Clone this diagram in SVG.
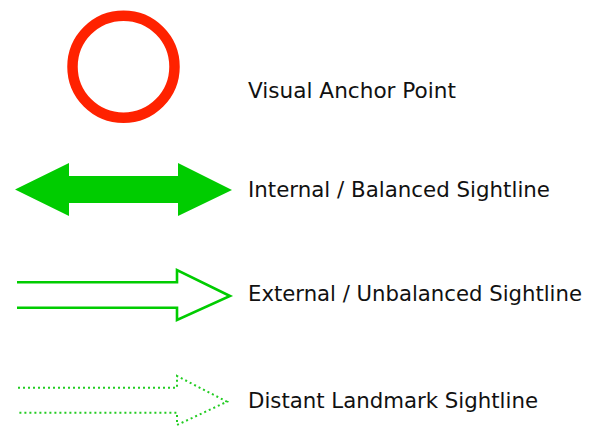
<svg xmlns="http://www.w3.org/2000/svg" width="591" height="427" viewBox="0 0 591 427">
<style>
.lbl{font-family:"DejaVu Sans","Liberation Sans",Arial,sans-serif;font-size:21px;fill:#111}
.out{fill:none;stroke:#00cc00;stroke-width:2.6;stroke-linejoin:miter}
.dot{fill:none;stroke:#22cc22;stroke-width:2;stroke-dasharray:2 3}
</style>
<rect width="591" height="427" fill="#fff"/>
<g id="anchor">
<circle cx="123.5" cy="66.7" r="51" fill="none" stroke="#ff2200" stroke-width="10.5"/>
<text class="lbl" x="248" y="97.5" textLength="208" lengthAdjust="spacingAndGlyphs">Visual Anchor Point</text>
</g>
<g id="internal">
<polygon points="15,189.5 69,163 69,176 178,176 178,163 232,190 178,216 178,203 69,203 69,216" fill="#00cc00"/>
<text class="lbl" x="248" y="197" textLength="302" lengthAdjust="spacingAndGlyphs">Internal / Balanced Sightline</text>
</g>
<g id="external">
<path class="out" d="M17,282.3 H177 V270 L230,296 L177,320 V307.7 H17"/>
<text class="lbl" x="248" y="301" textLength="334" lengthAdjust="spacingAndGlyphs">External / Unbalanced Sightline</text>
</g>
<g id="distant">
<path class="dot" d="M18,387.7 H177 V376 L227,401.7 L177,425 V412.7 H18"/>
<text class="lbl" x="248" y="407.5" textLength="290" lengthAdjust="spacingAndGlyphs">Distant Landmark Sightline</text>
</g>
</svg>
